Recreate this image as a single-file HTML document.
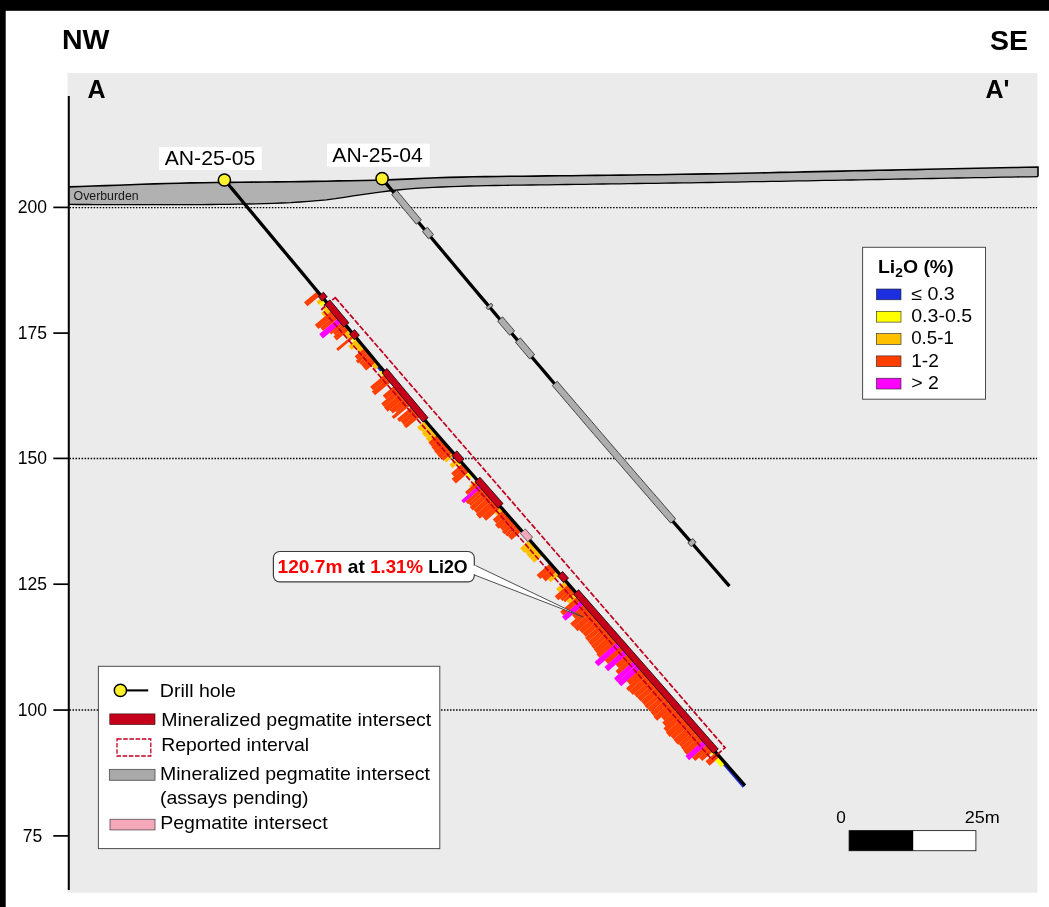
<!DOCTYPE html>
<html><head><meta charset="utf-8">
<style>
html,body{margin:0;padding:0;background:#fff;}
body{width:1049px;height:907px;overflow:hidden;position:relative;font-family:"Liberation Sans",sans-serif;}
svg{position:absolute;left:0;top:0;will-change:transform;}
text{font-family:"Liberation Sans",sans-serif;fill:#000;}
</style></head><body>
<svg width="1049" height="907" viewBox="0 0 1049 907">
<!-- frame -->
<rect x="0" y="0" width="1049" height="10.8" fill="#000"/>
<rect x="0" y="0" width="5.7" height="907" fill="#000"/>
<!-- plot bg -->
<rect x="67.5" y="73" width="969.9" height="819.7" fill="#ebebeb"/>
<!-- headings -->
<text x="62" y="49.4" font-size="28.5" font-weight="bold">NW</text>
<text x="990" y="50.3" font-size="28.5" font-weight="bold">SE</text>
<text x="87.5" y="98.2" font-size="25" font-weight="bold">A</text>
<text x="985.5" y="98.2" font-size="25" font-weight="bold">A'</text>
<!-- gridlines -->
<g stroke="#000" stroke-width="1.45" stroke-dasharray="1.5 1.52">
<line x1="69.5" y1="207.6" x2="1037" y2="207.6"/>
<line x1="69.5" y1="458.4" x2="1037" y2="458.4"/>
<line x1="69.5" y1="710.05" x2="1037" y2="710.05"/>
</g>
<!-- overburden -->
<g id="ovb"><path d="M68.5 186.9 L80.8 186.5 L93.0 186.0 L105.3 185.6 L117.6 185.2 L129.9 184.7 L142.1 184.3 L154.4 183.9 L166.7 183.5 L178.9 183.2 L191.2 182.9 L203.5 182.7 L215.8 182.5 L228.0 182.4 L240.3 182.2 L252.6 182.1 L264.9 182.0 L277.1 181.9 L289.4 181.8 L301.7 181.6 L313.9 181.4 L326.2 181.2 L338.5 180.9 L350.8 180.7 L363.0 180.5 L375.3 180.3 L387.6 179.9 L399.8 179.4 L412.1 178.9 L424.4 178.3 L436.7 177.8 L448.9 177.4 L461.2 177.1 L473.5 176.8 L485.8 176.6 L498.0 176.5 L510.3 176.3 L522.6 176.2 L534.8 176.1 L547.1 175.9 L559.4 175.8 L571.7 175.7 L583.9 175.5 L596.2 175.4 L608.5 175.2 L620.7 175.1 L633.0 175.0 L645.3 174.8 L657.6 174.7 L669.8 174.5 L682.1 174.3 L694.4 174.1 L706.7 173.9 L718.9 173.7 L731.2 173.5 L743.5 173.2 L755.7 173.0 L768.0 172.7 L780.3 172.4 L792.6 172.2 L804.8 171.9 L817.1 171.6 L829.4 171.4 L841.6 171.1 L853.9 170.8 L866.2 170.6 L878.5 170.3 L890.7 170.1 L903.0 169.8 L915.3 169.6 L927.6 169.3 L939.8 169.0 L952.1 168.8 L964.4 168.5 L976.6 168.3 L988.9 168.0 L1001.2 167.8 L1013.5 167.5 L1025.7 167.3 L1038.0 167.0 L1038.0 176.6 L1029.1 176.8 L1020.2 176.9 L1011.3 177.1 L1002.4 177.2 L993.5 177.4 L984.6 177.6 L975.7 177.7 L966.8 177.9 L957.9 178.0 L949.1 178.2 L940.2 178.4 L931.3 178.5 L922.4 178.7 L913.5 178.8 L904.6 179.0 L895.7 179.2 L886.8 179.3 L877.9 179.5 L869.0 179.6 L860.1 179.8 L851.2 180.0 L842.3 180.1 L833.4 180.3 L824.5 180.4 L815.6 180.6 L806.7 180.8 L797.8 180.9 L789.0 181.1 L780.1 181.3 L771.2 181.4 L762.3 181.6 L753.4 181.7 L744.5 181.9 L735.6 182.1 L726.7 182.2 L717.8 182.4 L708.9 182.5 L700.0 182.6 L691.1 182.8 L682.2 182.9 L673.3 183.0 L664.4 183.2 L655.5 183.3 L646.6 183.4 L637.7 183.5 L628.9 183.7 L620.0 183.8 L611.1 183.9 L602.2 184.0 L593.3 184.1 L584.4 184.3 L575.5 184.4 L566.6 184.5 L557.7 184.6 L548.8 184.8 L539.9 184.9 L531.0 185.0 L522.1 185.1 L513.2 185.2 L504.3 185.4 L495.4 185.5 L486.5 185.7 L477.6 185.8 L468.8 186.0 L459.9 186.3 L451.0 186.7 L442.1 187.0 L433.2 187.4 L424.3 187.8 L415.4 188.3 L406.5 189.1 L397.6 190.0 L388.7 191.0 L379.8 192.1 L370.9 193.3 L362.0 194.6 L353.1 195.9 L344.2 197.3 L335.3 198.7 L326.4 199.8 L317.5 200.7 L308.7 201.4 L299.8 202.0 L290.9 202.6 L282.0 203.0 L273.1 203.3 L264.2 203.6 L255.3 203.8 L246.4 204.0 L237.5 204.2 L228.6 204.3 L219.7 204.4 L210.8 204.5 L201.9 204.6 L193.0 204.6 L184.1 204.7 L175.2 204.7 L166.3 204.7 L157.4 204.7 L148.6 204.7 L139.7 204.7 L130.8 204.7 L121.9 204.7 L113.0 204.6 L104.1 204.6 L95.2 204.6 L86.3 204.5 L77.4 204.5 L68.5 204.4 Z" fill="#b1b1b1"/><path d="M68.5 204.4 L77.4 204.5 L86.3 204.5 L95.2 204.6 L104.1 204.6 L113.0 204.6 L121.9 204.7 L130.8 204.7 L139.7 204.7 L148.6 204.7 L157.4 204.7 L166.3 204.7 L175.2 204.7 L184.1 204.7 L193.0 204.6 L201.9 204.6 L210.8 204.5 L219.7 204.4 L228.6 204.3 L237.5 204.2 L246.4 204.0 L255.3 203.8 L264.2 203.6 L273.1 203.3 L282.0 203.0 L290.9 202.6 L299.8 202.0 L308.7 201.4 L317.5 200.7 L326.4 199.8 L335.3 198.7 L344.2 197.3 L353.1 195.9 L362.0 194.6 L370.9 193.3 L379.8 192.1 L388.7 191.0 L397.6 190.0 L406.5 189.1 L415.4 188.3 L424.3 187.8 L433.2 187.4 L442.1 187.0 L451.0 186.7 L459.9 186.3 L468.8 186.0 L477.6 185.8 L486.5 185.7 L495.4 185.5 L504.3 185.4 L513.2 185.2 L522.1 185.1 L531.0 185.0 L539.9 184.9 L548.8 184.8 L557.7 184.6 L566.6 184.5 L575.5 184.4 L584.4 184.3 L593.3 184.1 L602.2 184.0 L611.1 183.9 L620.0 183.8 L628.9 183.7 L637.7 183.5 L646.6 183.4 L655.5 183.3 L664.4 183.2 L673.3 183.0 L682.2 182.9 L691.1 182.8 L700.0 182.6 L708.9 182.5 L717.8 182.4 L726.7 182.2 L735.6 182.1 L744.5 181.9 L753.4 181.7 L762.3 181.6 L771.2 181.4 L780.1 181.3 L789.0 181.1 L797.8 180.9 L806.7 180.8 L815.6 180.6 L824.5 180.4 L833.4 180.3 L842.3 180.1 L851.2 180.0 L860.1 179.8 L869.0 179.6 L877.9 179.5 L886.8 179.3 L895.7 179.2 L904.6 179.0 L913.5 178.8 L922.4 178.7 L931.3 178.5 L940.2 178.4 L949.1 178.2 L957.9 178.0 L966.8 177.9 L975.7 177.7 L984.6 177.6 L993.5 177.4 L1002.4 177.2 L1011.3 177.1 L1020.2 176.9 L1029.1 176.8 L1038.0 176.6" fill="none" stroke="#000" stroke-width="1.3"/><path d="M68.5 186.9 L80.8 186.5 L93.0 186.0 L105.3 185.6 L117.6 185.2 L129.9 184.7 L142.1 184.3 L154.4 183.9 L166.7 183.5 L178.9 183.2 L191.2 182.9 L203.5 182.7 L215.8 182.5 L228.0 182.4 L240.3 182.2 L252.6 182.1 L264.9 182.0 L277.1 181.9 L289.4 181.8 L301.7 181.6 L313.9 181.4 L326.2 181.2 L338.5 180.9 L350.8 180.7 L363.0 180.5 L375.3 180.3 L387.6 179.9 L399.8 179.4 L412.1 178.9 L424.4 178.3 L436.7 177.8 L448.9 177.4 L461.2 177.1 L473.5 176.8 L485.8 176.6 L498.0 176.5 L510.3 176.3 L522.6 176.2 L534.8 176.1 L547.1 175.9 L559.4 175.8 L571.7 175.7 L583.9 175.5 L596.2 175.4 L608.5 175.2 L620.7 175.1 L633.0 175.0 L645.3 174.8 L657.6 174.7 L669.8 174.5 L682.1 174.3 L694.4 174.1 L706.7 173.9 L718.9 173.7 L731.2 173.5 L743.5 173.2 L755.7 173.0 L768.0 172.7 L780.3 172.4 L792.6 172.2 L804.8 171.9 L817.1 171.6 L829.4 171.4 L841.6 171.1 L853.9 170.8 L866.2 170.6 L878.5 170.3 L890.7 170.1 L903.0 169.8 L915.3 169.6 L927.6 169.3 L939.8 169.0 L952.1 168.8 L964.4 168.5 L976.6 168.3 L988.9 168.0 L1001.2 167.8 L1013.5 167.5 L1025.7 167.3 L1038.0 167.0 L1038 176.6" fill="none" stroke="#000" stroke-width="1.6" stroke-linejoin="miter"/></g>
<text x="73.6" y="200" font-size="12.2" style="fill:#161616" textLength="65" lengthAdjust="spacingAndGlyphs">Overburden</text>
<!-- axis -->
<line x1="68.8" y1="96" x2="68.8" y2="890" stroke="#000" stroke-width="2"/>
<g stroke="#000" stroke-width="1.7">
<line x1="53.3" y1="207.4" x2="69" y2="207.4"/>
<line x1="53.3" y1="333.1" x2="69" y2="333.1"/>
<line x1="53.3" y1="458.4" x2="69" y2="458.4"/>
<line x1="53.3" y1="584.2" x2="69" y2="584.2"/>
<line x1="53.3" y1="710.05" x2="69" y2="710.05"/>
<line x1="53.3" y1="835.9" x2="69" y2="835.9"/>
</g>
<g font-size="17.5" text-anchor="middle">
<text x="32.4" y="213.45">200</text>
<text x="32.4" y="339.15">175</text>
<text x="32.4" y="464.45">150</text>
<text x="32.4" y="590.25">125</text>
<text x="32.4" y="716.10">100</text>
<text x="32.4" y="841.95">75</text>
</g>
<!-- HOLES placeholder -->
<g id="hole04">
<path d="M382.1 178.5 L387.2 184.65 L392.3 190.81 L397.41 196.96 L402.51 203.11 L407.62 209.25 L412.73 215.4 L417.85 221.54 L422.97 227.68 L428.09 233.81 L433.21 239.95 L438.33 246.08 L443.46 252.21 L448.59 258.34 L453.72 264.47 L458.86 270.59 L464 276.72 L469.14 282.84 L474.28 288.95 L479.43 295.07 L484.58 301.18 L489.73 307.29 L494.88 313.4 L500.04 319.51 L505.19 325.61 L510.36 331.72 L515.52 337.82 L520.69 343.92 L525.85 350.01 L531.03 356.11 L536.2 362.2 L541.38 368.29 L546.56 374.38 L551.74 380.46 L556.92 386.54 L562.11 392.62 L567.3 398.7 L572.49 404.78 L577.68 410.85 L582.88 416.93 L588.08 423 L593.28 429.06 L598.49 435.13 L603.7 441.19 L608.91 447.25 L614.12 453.31 L619.33 459.37 L624.55 465.42 L629.77 471.48 L634.99 477.53 L640.22 483.57 L645.45 489.62 L650.68 495.66 L655.91 501.71 L661.15 507.74 L666.38 513.78 L671.62 519.82 L676.87 525.85 L682.11 531.88 L687.36 537.91 L692.61 543.93 L697.86 549.96 L703.12 555.98 L708.38 562 L713.64 568.01 L718.9 574.03 L724.17 580.04 L729.44 586.05" fill="none" stroke="#000" stroke-width="3.3"/>
<polygon points="396.75,190.38 400.27,194.61 403.78,198.84 407.29,203.07 410.81,207.3 414.33,211.53 417.85,215.75 421.36,219.98 416.29,224.2 412.77,219.98 409.25,215.75 405.74,211.52 402.22,207.29 398.7,203.06 395.19,198.83 391.68,194.59" fill="#adadad" stroke="#333" stroke-width="0.9"/>
<polygon points="427.45,227.27 430.49,230.92 433.53,234.56 428.47,238.79 425.42,235.15 422.38,231.5" fill="#adadad" stroke="#333" stroke-width="0.9"/>
<polygon points="491.11,303.19 493.04,305.49 488,309.74 486.06,307.45" fill="#adadad" stroke="#333" stroke-width="0.9"/>
<polygon points="502.65,316.87 505.63,320.4 508.62,323.94 511.61,327.47 514.59,331 509.55,335.26 506.57,331.73 503.58,328.2 500.59,324.66 497.61,321.13" fill="#adadad" stroke="#333" stroke-width="0.9"/>
<polygon points="520.41,337.86 523.96,342.06 527.52,346.25 531.07,350.45 534.63,354.64 529.6,358.91 526.04,354.72 522.48,350.52 518.93,346.33 515.37,342.13" fill="#adadad" stroke="#333" stroke-width="0.9"/>
<polygon points="557.31,381.29 561.11,385.75 564.9,390.2 568.7,394.65 572.51,399.1 576.31,403.55 580.11,408 583.92,412.45 587.73,416.9 591.54,421.34 595.35,425.79 599.16,430.23 602.97,434.67 606.78,439.11 610.6,443.55 614.42,447.99 618.24,452.42 622.06,456.86 625.88,461.29 629.7,465.73 633.52,470.16 637.35,474.59 641.17,479.02 645,483.45 648.83,487.88 652.66,492.3 656.49,496.73 660.33,501.15 664.16,505.58 668,510 671.84,514.42 675.67,518.84 670.69,523.17 666.85,518.75 663.01,514.32 659.18,509.9 655.34,505.48 651.51,501.05 647.67,496.62 643.84,492.2 640.01,487.77 636.18,483.34 632.35,478.91 628.53,474.47 624.7,470.04 620.88,465.6 617.05,461.17 613.23,456.73 609.41,452.29 605.6,447.85 601.78,443.41 597.96,438.97 594.15,434.53 590.34,430.08 586.52,425.64 582.71,421.19 578.91,416.74 575.1,412.29 571.29,407.84 567.49,403.39 563.69,398.94 559.88,394.48 556.08,390.03 552.28,385.57" fill="#adadad" stroke="#333" stroke-width="0.9"/>
<polygon points="692.8,538.52 696.09,542.29 691.11,546.63 687.83,542.86" fill="#adadad" stroke="#333" stroke-width="0.9"/>
<circle cx="382.1" cy="178.6" r="6.1" fill="#fff22d" stroke="#000" stroke-width="1.5"/>
</g>
<g id="hole05">
<polygon points="317.31,291.13 320.64,295.13 307.35,306.2 304.02,302.21" fill="#ff3e00"/>
<polygon points="322.24,297.05 324.57,299.85 318.81,304.65 316.48,301.85" fill="#ffc000"/>
<polygon points="324.48,299.73 326.81,302.54 321.74,306.76 319.41,303.96" fill="#ffff00"/>
<polygon points="326.72,302.42 327.78,303.69 324.55,306.38 323.49,305.11" fill="#1c2fe0"/>
<polygon points="327.68,303.58 329.6,305.88 324.22,310.36 322.3,308.06" fill="#ffc000"/>
<polygon points="329.6,305.88 332.9,309.84 324.29,317.01 321,313.05" fill="#ffc000"/>
<polygon points="332.8,309.72 336.42,314.06 318.44,329.04 314.83,324.7" fill="#ff3e00"/>
<polygon points="336.32,313.95 339.2,317.4 323.07,330.85 320.19,327.39" fill="#ff3e00"/>
<polygon points="339.2,317.4 342.82,321.74 322.85,338.39 319.23,334.05" fill="#ff00ff"/>
<polygon points="342.72,321.63 344.33,323.55 331.27,334.43 329.67,332.51" fill="#ff3e00"/>
<polygon points="344.33,323.55 346.25,325.85 335.11,335.14 333.19,332.83" fill="#ff3e00"/>
<polygon points="346.25,325.85 349.45,329.69 336.62,340.39 333.42,336.54" fill="#ff3e00"/>
<polygon points="349.45,329.69 351.48,332.13 353.51,334.57 347.83,339.31 345.8,336.87 343.76,334.43" fill="#ffc000"/>
<polygon points="353.42,334.46 355.21,336.61 338,350.95 336.21,348.8" fill="#ff3e00"/>
<polygon points="355.21,336.61 357.1,338.87 353.49,341.88 351.6,339.62" fill="#ffff00"/>
<polygon points="357,338.76 360.3,342.71 351.62,349.95 348.32,345.99" fill="#ffc000"/>
<polygon points="360.2,342.6 362.49,345.34 364.78,348.09 359.25,352.7 356.96,349.95 354.67,347.21" fill="#ffc000"/>
<polygon points="364.69,347.98 367.47,351.32 357.48,359.64 354.7,356.3" fill="#ff3e00"/>
<polygon points="367.37,351.2 369.62,353.89 358.09,363.49 355.85,360.81" fill="#ff3e00"/>
<polygon points="369.62,353.89 371.22,355.81 360.77,364.52 359.17,362.6" fill="#ff3e00"/>
<polygon points="371.22,355.81 373.78,358.88 376.34,361.96 366.12,370.47 363.56,367.4 361,364.33" fill="#ff3e00"/>
<polygon points="376.34,361.96 379.76,366.07 375.31,369.78 371.88,365.67" fill="#ffc000"/>
<polygon points="379.67,365.95 382.84,369.75 380.3,371.87 377.13,368.06" fill="#1c2fe0"/>
<polygon points="382.74,369.64 386.04,373.59 382.58,376.48 379.28,372.52" fill="#ffff00"/>
<polygon points="385.94,373.48 389.11,377.28 373.29,390.47 370.12,386.67" fill="#ff3e00"/>
<polygon points="389.01,377.17 392.22,381.01 375.01,395.35 371.81,391.51" fill="#ff3e00"/>
<polygon points="395.42,384.85 398.84,388.96 386.17,399.52 382.74,395.41" fill="#ff3e00"/>
<polygon points="398.75,388.84 401.79,392.49 384.27,407.09 381.23,403.44" fill="#ff3e00"/>
<polygon points="401.69,392.38 405.44,396.87 387.62,411.72 383.87,407.23" fill="#ff3e00"/>
<polygon points="405.34,396.75 408.45,400.48 392.78,413.54 389.67,409.82" fill="#ff3e00"/>
<polygon points="408.35,400.37 409.6,401.86 396.54,412.75 395.29,411.25" fill="#ff3e00"/>
<polygon points="409.5,401.75 411.55,404.21 393.73,419.06 391.68,416.6" fill="#ff3e00"/>
<polygon points="412.83,405.74 415.49,408.93 399.66,422.12 397.01,418.93" fill="#ff3e00"/>
<polygon points="415.39,408.82 418.43,412.46 403.69,424.76 400.64,421.11" fill="#ff3e00"/>
<polygon points="418.34,412.35 421.16,415.72 406.15,428.33 403.29,424.9" fill="#ff3e00"/>
<polygon points="425.16,420.46 428.27,424.12 420.21,431 417.07,427.32" fill="#ffc000"/>
<polygon points="428.27,424.12 429.89,426.02 422.6,432.26 420.97,430.35" fill="#ffc000"/>
<polygon points="429.89,426.02 433.48,430.19 425.38,437.18 421.77,432.98" fill="#ffc000"/>
<polygon points="433.48,430.19 434.27,431.1 426.86,437.51 426.06,436.59" fill="#ffc000"/>
<polygon points="434.27,431.1 437.51,434.83 429.07,442.19 425.8,438.42" fill="#ffc000"/>
<polygon points="437.41,434.72 441,438.82 432.05,446.67 428.44,442.54" fill="#ff3e00"/>
<polygon points="440.9,438.71 444.1,442.36 434.63,450.66 431.43,447.02" fill="#ff3e00"/>
<polygon points="444,442.24 447.79,446.57 437.94,455.2 434.15,450.88" fill="#ff3e00"/>
<polygon points="447.69,446.45 450.59,449.76 440.52,458.6 437.62,455.29" fill="#ff3e00"/>
<polygon points="450.59,449.76 453,452.51 443.52,460.81 441.12,458.07" fill="#ff3e00"/>
<polygon points="452.9,452.39 455.04,454.84 446.24,462.55 444.1,460.11" fill="#ffc000"/>
<polygon points="454.94,454.73 455.87,455.78 453.01,458.28 452.09,457.23" fill="#1c2fe0"/>
<polygon points="457.51,457.66 460.58,461.15 452.53,468.21 449.47,464.71" fill="#ffc000"/>
<polygon points="460.48,461.04 462.56,463.41 459.25,466.31 457.17,463.94" fill="#ffff00"/>
<polygon points="462.46,463.3 465.52,466.79 454.24,476.68 451.18,473.19" fill="#ff3e00"/>
<polygon points="465.43,466.68 467.55,469.11 469.68,471.53 455.92,483.6 453.79,481.17 451.66,478.75" fill="#ff3e00"/>
<polygon points="469.58,471.42 473.27,475.63 469.36,479.06 465.67,474.85" fill="#ffff00"/>
<polygon points="476.63,479.46 477.95,480.97 470.36,487.63 469.04,486.12" fill="#ffc000"/>
<polygon points="477.75,480.74 480.49,483.86 467.78,495 465.04,491.88" fill="#ff3e00"/>
<polygon points="480.39,483.75 482.86,486.57 463.76,503.31 461.29,500.5" fill="#ff00ff"/>
<polygon points="482.76,486.46 485.14,489.17 467.99,504.2 465.62,501.49" fill="#ff3e00"/>
<polygon points="485.14,489.17 487.25,491.57 470.85,505.94 468.74,503.54" fill="#ff3e00"/>
<polygon points="487.25,491.57 490.28,495.03 472.76,510.39 469.72,506.93" fill="#ff3e00"/>
<polygon points="490.28,495.03 493.64,498.87 476.95,513.5 473.58,509.66" fill="#ff3e00"/>
<polygon points="493.64,498.87 497.5,503.26 479.83,518.76 475.97,514.36" fill="#ff3e00"/>
<polygon points="497.4,503.15 501.19,507.48 486.07,520.73 482.28,516.4" fill="#ff3e00"/>
<polygon points="501.09,507.36 503.56,510.18 497.17,515.79 494.7,512.97" fill="#ffc000"/>
<polygon points="503.46,510.07 507.12,514.24 496.44,523.6 492.78,519.43" fill="#ff3e00"/>
<polygon points="507.02,514.13 510.68,518.3 498.65,528.85 494.99,524.68" fill="#ff3e00"/>
<polygon points="510.58,518.19 513.58,521.61 502.9,530.97 499.9,527.55" fill="#ff3e00"/>
<polygon points="513.48,521.5 515.86,524.21 504.35,534.29 501.98,531.59" fill="#ff3e00"/>
<polygon points="515.86,524.21 518.16,526.84 507.18,536.46 504.88,533.83" fill="#ff3e00"/>
<polygon points="518.16,526.84 521.79,530.97 511.49,540.01 507.86,535.87" fill="#ff3e00"/>
<polygon points="529.57,539.85 531.59,542.16 533.62,544.47 524.15,552.78 522.12,550.47 520.09,548.15" fill="#ffc000"/>
<polygon points="533.52,544.36 535.63,546.76 527.06,554.28 524.95,551.87" fill="#ffc000"/>
<polygon points="535.63,546.76 538.6,550.15 529.65,557.99 526.68,554.61" fill="#ffc000"/>
<polygon points="538.6,550.15 540.77,552.63 542.95,555.11 534.15,562.82 531.98,560.34 529.8,557.86" fill="#ffc000"/>
<polygon points="550,563.16 553.66,567.33 540.28,579.06 536.62,574.89" fill="#ff3e00"/>
<polygon points="553.56,567.22 557.16,571.32 545.57,581.47 541.98,577.37" fill="#ff3e00"/>
<polygon points="557.06,571.2 559.79,574.32 550.62,582.37 547.88,579.25" fill="#ffc000"/>
<polygon points="559.69,574.21 561.34,576.09 558.11,578.93 556.46,577.05" fill="#ffff00"/>
<polygon points="565.43,580.75 568.56,584.32 559.31,592.43 556.18,588.86" fill="#ffc000"/>
<polygon points="568.46,584.21 571.99,588.24 558.23,600.3 554.7,596.28" fill="#ff3e00"/>
<polygon points="571.89,588.12 574.13,590.68 562.32,601.03 560.08,598.47" fill="#ff3e00"/>
<polygon points="574.13,590.68 575.94,592.75 565.04,602.31 563.23,600.24" fill="#ff3e00"/>
<polygon points="575.84,592.63 578.71,595.91 569.39,604.08 566.52,600.81" fill="#ffc000"/>
<polygon points="578.61,595.79 579.8,597.15 576.49,600.05 575.3,598.69" fill="#ffff00"/>
<polygon points="578.48,595.64 581.88,599.51 563.53,615.6 560.13,611.73" fill="#ff3e00"/>
<polygon points="581.78,599.4 585.3,603.42 565.53,620.76 562,616.74" fill="#ff00ff"/>
<polygon points="585.2,603.31 588.8,607.41 575.56,619.01 571.97,614.91" fill="#ff3e00"/>
<polygon points="588.7,607.3 591.8,610.83 573.3,627.05 570.2,623.51" fill="#ff3e00"/>
<polygon points="591.8,610.83 595.72,615.31 577.52,631.26 573.6,626.78" fill="#ff3e00"/>
<polygon points="595.62,615.19 598.92,618.95 582.37,633.46 579.08,629.7" fill="#ff3e00"/>
<polygon points="598.92,618.95 602.21,622.71 585.82,637.08 582.52,633.32" fill="#ff3e00"/>
<polygon points="602.21,622.71 605.51,626.47 588.36,641.5 585.07,637.74" fill="#ff3e00"/>
<polygon points="605.51,626.47 608.8,630.23 591.51,645.39 588.21,641.63" fill="#ff3e00"/>
<polygon points="608.8,630.23 611.71,633.54 594.03,649.03 591.13,645.72" fill="#ff3e00"/>
<polygon points="611.71,633.54 615.5,637.86 597.45,653.69 593.66,649.36" fill="#ff3e00"/>
<polygon points="615.4,637.75 618.4,641.17 599.45,657.78 596.45,654.36" fill="#ff3e00"/>
<polygon points="618.3,641.06 622.09,645.38 598.33,666.21 594.54,661.89" fill="#ff00ff"/>
<polygon points="621.99,645.27 625.25,648.99 608.03,664.09 604.77,660.37" fill="#ff3e00"/>
<polygon points="625.15,648.88 628.81,653.05 608.13,671.18 604.47,667.01" fill="#ff00ff"/>
<polygon points="628.71,652.94 631.98,656.66 618.82,668.2 615.55,664.48" fill="#ff3e00"/>
<polygon points="631.88,656.55 634.94,660.05 618.55,674.42 615.48,670.92" fill="#ff3e00"/>
<polygon points="634.84,659.93 638.07,663.62 617.24,681.88 614.01,678.19" fill="#ff00ff"/>
<polygon points="638.07,663.62 641.86,667.94 621.11,686.14 617.32,681.81" fill="#ff00ff"/>
<polygon points="641.77,667.83 645.16,671.7 630.05,684.95 626.65,681.08" fill="#ff3e00"/>
<polygon points="645.06,671.59 647.83,674.75 628.81,691.43 626.04,688.27" fill="#ff3e00"/>
<polygon points="647.83,674.75 651.32,678.73 632.83,694.95 629.33,690.96" fill="#ff3e00"/>
<polygon points="651.32,678.73 654.55,682.42 637.11,697.71 633.88,694.03" fill="#ff3e00"/>
<polygon points="654.55,682.42 657.78,686.1 640.56,701.2 637.33,697.51" fill="#ff3e00"/>
<polygon points="657.78,686.1 661.64,690.5 644.72,705.33 640.87,700.93" fill="#ff3e00"/>
<polygon points="661.54,690.39 664.38,693.62 647.16,708.72 644.32,705.48" fill="#ff3e00"/>
<polygon points="664.38,693.62 667.8,697.53 650.96,712.3 647.53,708.39" fill="#ff3e00"/>
<polygon points="667.8,697.53 671.1,701.29 654.03,716.26 650.73,712.5" fill="#ff3e00"/>
<polygon points="671.1,701.29 674.69,705.39 657.1,720.82 653.5,716.72" fill="#ff3e00"/>
<polygon points="674.59,705.28 677.86,709 664.47,720.73 661.21,717.01" fill="#ff3e00"/>
<polygon points="677.76,708.89 681.29,712.91 665.72,726.56 662.19,722.53" fill="#ff3e00"/>
<polygon points="681.19,712.8 684.35,716.41 666.6,731.96 663.44,728.35" fill="#ff3e00"/>
<polygon points="684.35,716.41 688.14,720.73 669.72,736.88 665.93,732.56" fill="#ff3e00"/>
<polygon points="688.04,720.62 691.01,724 673.49,739.36 670.52,735.98" fill="#ff3e00"/>
<polygon points="691.01,724 693.33,726.65 695.66,729.3 677.99,744.79 675.66,742.14 673.34,739.49" fill="#ff3e00"/>
<polygon points="695.56,729.19 698.26,732.27 681.42,747.04 678.71,743.96" fill="#ff3e00"/>
<polygon points="698.26,732.27 700.96,735.36 683.74,750.45 681.04,747.37" fill="#ff3e00"/>
<polygon points="700.96,735.36 704.62,739.53 686.95,755.02 683.29,750.85" fill="#ff3e00"/>
<polygon points="704.52,739.42 708.12,743.51 689.09,760.19 685.5,756.09" fill="#ff00ff"/>
<polygon points="708.02,743.4 711.21,747.05 695.27,761.02 692.07,757.38" fill="#ff3e00"/>
<polygon points="711.11,746.94 714.25,750.51 702.21,761.05 699.08,757.48" fill="#ff3e00"/>
<polygon points="714.15,750.39 715.83,752.31 712.07,755.61 710.39,753.69" fill="#ffff00"/>
<polygon points="715.73,752.2 717.76,754.51 719.78,756.82 709.56,765.79 707.53,763.48 705.5,761.16" fill="#ff3e00"/>
<polygon points="719.68,756.71 722.65,760.09 725.62,763.48 721.11,767.43 718.14,764.05 715.17,760.67" fill="#ffff00"/>
<polygon points="725.49,763.33 729.39,767.78 733.29,772.23 737.19,776.68 741.1,781.13 745,785.59 742.67,787.63 738.76,783.18 734.86,778.73 730.96,774.27 727.06,769.82 723.15,765.37" fill="#1c2fe0"/>
<path d="M317.44 294.41L306.14 303.82M333.07 313.17L317.1 326.49M336.23 316.95L322.09 328.74M346.31 329.05L335.48 338.08M364.54 350.93L356.55 357.59M371.39 359.14L363.17 365.99M373.09 361.19L364.87 368.04M385.99 376.66L372.16 388.19M389.08 380.37L373.87 393.04M395.59 388.18L384.92 397.08M398.73 391.95L383.21 404.88M402.03 395.9L386.2 409.09M405.36 399.9L391.68 411.29M412.62 408.62L398.8 420.14M415.38 411.92L402.63 422.55M418.21 415.32L405.18 426.23M437.7 438.09L430.7 444.21M441 441.85L433.48 448.44M444.39 445.72L436.5 452.65M447.64 449.43L439.52 456.55M462.49 466.36L453.16 474.54M465.34 469.62L453.53 479.97M466.76 471.23L454.95 481.58M477.62 483.62L466.86 493.05M487.26 494.62L471.69 508.27M490.45 498.27L475.72 511.19M494.06 502.38L478.35 516.16M497.79 506.63L484.63 518.17M503.79 513.47L495.06 521.12M507.35 517.54L497.27 526.37M510.58 521.22L501.85 528.87M518.47 530.22L510.12 537.54M550.33 566.56L538.9 576.58M553.85 570.59L544.23 579.02M568.72 587.54L556.91 597.89M578.67 598.9L562.28 613.27M585.5 606.68L574.22 616.57M588.74 610.38L572.2 624.89M592.25 614.39L576.01 628.63M595.76 618.39L581.18 631.18M599.06 622.15L584.62 634.81M602.36 625.91L587.17 639.23M605.65 629.67L590.31 643.12M608.75 633.2L593.03 646.98M612.1 637.02L596 651.13M615.39 640.78L598.4 655.68M622.12 648.45L606.85 661.83M628.84 656.12L617.64 665.94M631.91 659.62L617.47 672.27M641.96 671.08L628.8 682.62M644.94 674.49L627.87 689.45M648.07 678.06L631.53 692.56M651.44 681.89L635.94 695.47M654.67 685.58L639.4 698.96M658.21 689.62L643.24 702.74M661.46 693.32L646.19 706.71M664.59 696.9L649.7 709.95M667.95 700.73L652.83 713.98M671.39 704.66L655.75 718.37M674.72 708.46L663.29 718.48M678.02 712.22L664.41 724.15M681.26 715.92L665.47 729.76M684.74 719.89L668.27 734.32M688.02 723.63L672.46 737.27M691.05 727.09L675.34 740.86M692.6 728.85L676.89 742.63M695.4 732.05L680.52 745.1M698.11 735.13L682.84 748.51M701.29 738.76L685.57 752.54M708.11 746.54L694.12 758.8M711.18 750.04L701.1 758.87M715.58 755.06L707.31 762.31M716.93 756.6L708.66 763.85" stroke="#ff6a35" stroke-width="0.4" fill="none" opacity="0.42"/>
<path d="M224.6 179.9 L229.71 186.03 L234.83 192.17 L239.94 198.3 L245.05 204.44 L250.16 210.57 L255.28 216.71 L260.39 222.84 L265.5 228.98 L270.62 235.11 L275.73 241.25 L280.84 247.38 L285.96 253.52 L291.07 259.65 L296.18 265.78 L301.29 271.92 L306.41 278.05 L311.52 284.19 L316.63 290.32 L321.75 296.46 L326.86 302.59 L331.97 308.73 L337.09 314.86 L342.2 321 L347.31 327.13 L352.42 333.27 L357.54 339.4 L362.65 345.53 L367.76 351.67 L372.88 357.8 L377.99 363.94 L383.1 370.07 L388.22 376.21 L393.33 382.34 L398.44 388.48 L403.55 394.61 L408.67 400.75 L413.78 406.88 L418.89 413.02 L424.03 419.13 L429.2 425.21 L434.41 431.27 L439.66 437.29 L444.92 443.29 L450.19 449.3 L455.45 455.3 L460.72 461.31 L465.98 467.31 L471.24 473.32 L476.51 479.33 L481.77 485.33 L487.04 491.34 L492.3 497.34 L497.57 503.35 L502.83 509.35 L508.1 515.36 L513.36 521.36 L518.63 527.37 L523.89 533.37 L529.15 539.38 L534.42 545.38 L539.68 551.39 L544.95 557.39 L550.21 563.4 L555.48 569.4 L560.74 575.41 L566.01 581.41 L571.27 587.42 L576.53 593.42 L581.8 599.43 L587.06 605.43 L592.33 611.44 L597.59 617.44 L602.86 623.45 L608.12 629.45 L613.39 635.46 L618.65 641.46 L623.92 647.47 L629.18 653.47 L634.44 659.48 L639.71 665.48 L644.97 671.49 L650.24 677.49 L655.5 683.5 L660.77 689.5 L666.03 695.51 L671.3 701.51 L676.56 707.52 L681.82 713.52 L687.09 719.53 L692.35 725.53 L697.62 731.54 L702.88 737.54 L708.15 743.55 L713.41 749.56 L718.68 755.56 L723.94 761.57 L729.2 767.57 L734.47 773.58 L739.73 779.58 L745 785.59" fill="none" stroke="#000" stroke-width="3.3"/>
<polygon points="323.45,292.26 327.23,296.79 322.08,301.08 318.31,296.55" fill="#c4001a" stroke="#000" stroke-width="0.8"/>
<polygon points="329.86,299.94 333.67,304.52 337.49,309.1 341.3,313.67 345.12,318.25 348.93,322.83 343.79,327.12 339.97,322.54 336.16,317.96 332.34,313.39 328.52,308.81 324.71,304.23" fill="#c4001a" stroke="#000" stroke-width="0.8"/>
<polygon points="354.63,329.67 357,332.51 359.37,335.35 354.22,339.64 351.86,336.8 349.49,333.96" fill="#c4001a" stroke="#000" stroke-width="0.8"/>
<polygon points="387.03,368.54 390.76,373.01 394.49,377.49 398.22,381.97 401.95,386.44 405.68,390.92 409.41,395.4 413.15,399.87 416.88,404.35 420.61,408.82 424.34,413.28 428.08,417.72 422.97,422.05 419.21,417.59 415.46,413.11 411.73,408.64 408,404.16 404.27,399.68 400.54,395.21 396.81,390.73 393.08,386.26 389.34,381.78 385.61,377.3 381.88,372.83" fill="#c4001a" stroke="#000" stroke-width="0.8"/>
<polygon points="456.9,450.89 460.49,454.98 464.08,459.08 459.04,463.5 455.45,459.4 451.86,455.3" fill="#c4001a" stroke="#000" stroke-width="0.8"/>
<polygon points="480.04,477.28 483.87,481.65 487.7,486.03 491.54,490.4 495.37,494.77 499.21,499.15 503.04,503.52 498,507.94 494.17,503.57 490.33,499.19 486.5,494.82 482.67,490.44 478.83,486.07 475,481.7" fill="#c4001a" stroke="#000" stroke-width="0.8"/>
<polygon points="525.32,528.94 528.98,533.11 532.64,537.29 527.6,541.7 523.94,537.53 520.29,533.36" fill="#f3a8bb" stroke="#444" stroke-width="0.8"/>
<polygon points="562.63,571.5 565.57,574.85 568.5,578.19 563.46,582.61 560.53,579.26 557.6,575.92" fill="#c4001a" stroke="#000" stroke-width="0.8"/>
<polygon points="578.65,589.77 582.53,594.2 586.41,598.62 590.29,603.04 594.17,607.47 598.05,611.89 601.92,616.32 605.8,620.74 609.68,625.16 613.56,629.59 617.44,634.01 621.32,638.44 625.19,642.86 629.07,647.28 632.95,651.71 636.83,656.13 640.71,660.56 644.59,664.98 648.46,669.4 652.34,673.83 656.22,678.25 660.1,682.68 663.98,687.1 667.86,691.52 671.73,695.95 675.61,700.37 679.49,704.8 683.37,709.22 687.25,713.64 691.13,718.07 695.01,722.49 698.88,726.92 702.76,731.34 706.64,735.76 710.52,740.19 714.4,744.61 718.28,749.04 713.24,753.45 709.36,749.03 705.48,744.6 701.6,740.18 697.72,735.76 693.85,731.33 689.97,726.91 686.09,722.48 682.21,718.06 678.33,713.64 674.45,709.21 670.58,704.79 666.7,700.36 662.82,695.94 658.94,691.52 655.06,687.09 651.18,682.67 647.3,678.24 643.43,673.82 639.55,669.4 635.67,664.97 631.79,660.55 627.91,656.12 624.03,651.7 620.16,647.28 616.28,642.85 612.4,638.43 608.52,634 604.64,629.58 600.76,625.16 596.89,620.73 593.01,616.31 589.13,611.88 585.25,607.46 581.37,603.04 577.49,598.61 573.62,594.19" fill="#c4001a" stroke="#000" stroke-width="0.8"/>
<rect x="0" y="0" width="595.5" height="17.7" transform="translate(335.2 297.6) rotate(49.1)" fill="none" stroke="#c00020" stroke-width="1.7" stroke-dasharray="5.7 1.8"/>
<circle cx="224.4" cy="180" r="6.1" fill="#fff22d" stroke="#000" stroke-width="1.5"/>
</g>
<!-- hole labels -->
<rect x="159.1" y="147" width="102.7" height="23" fill="#fff"/>
<text x="164.7" y="165" font-size="21" textLength="90.6" lengthAdjust="spacingAndGlyphs">AN-25-05</text>
<rect x="327" y="143.7" width="102.8" height="23" fill="#fff"/>
<text x="332.3" y="162.3" font-size="21" textLength="90.4" lengthAdjust="spacingAndGlyphs">AN-25-04</text>
<!-- callout -->
<g id="callout">
<path d="M474 564.8 L583.3 617.1 L474 574.8 Z" fill="#fff" stroke="#3c3c3c" stroke-width="0.9" stroke-linejoin="miter"/>
<rect x="273.4" y="551.5" width="200.9" height="30.4" rx="6.3" ry="6.3" fill="#fff" stroke="#3c3c3c" stroke-width="1.2"/>
<rect x="472" y="565.6" width="4" height="8.6" fill="#fff"/>
<g font-size="17.8" font-weight="bold">
<text x="277.6" y="572.9" fill="#ff0000" style="fill:#ff0000" textLength="64.8" lengthAdjust="spacingAndGlyphs">120.7m</text>
<text x="347.8" y="572.9" textLength="17" lengthAdjust="spacingAndGlyphs">at</text>
<text x="370.2" y="572.9" style="fill:#ff0000" textLength="52.8" lengthAdjust="spacingAndGlyphs">1.31%</text>
<text x="428.2" y="572.9" textLength="39.4" lengthAdjust="spacingAndGlyphs">Li2O</text>
</g>
</g>
<!-- Li2O legend -->
<g id="leg1">
<rect x="862.6" y="247.3" width="122.9" height="151.9" fill="#fff" stroke="#4a4a4a" stroke-width="1"/>
<text x="878" y="273.4" font-size="18.4" font-weight="bold" textLength="75.6" lengthAdjust="spacingAndGlyphs">Li<tspan font-size="13" dy="3.6">2</tspan><tspan dy="-3.6">O (%)</tspan></text>
<g stroke="#222" stroke-width="0.6">
<rect x="876.4" y="289" width="24.6" height="10.8" fill="#1c2fe0"/>
<rect x="876.4" y="311.3" width="24.6" height="10.8" fill="#ffff00"/>
<rect x="876.4" y="333.6" width="24.6" height="10.8" fill="#ffc000"/>
<rect x="876.4" y="355.9" width="24.6" height="10.8" fill="#ff3e00"/>
<rect x="876.4" y="378.2" width="24.6" height="10.8" fill="#ff00ff"/>
</g>
<g font-size="17.6">
<text x="911.2" y="299.5" textLength="43.6" lengthAdjust="spacingAndGlyphs">≤ 0.3</text>
<text x="911.2" y="321.85" textLength="61" lengthAdjust="spacingAndGlyphs">0.3-0.5</text>
<text x="911.2" y="344.2" textLength="42.6" lengthAdjust="spacingAndGlyphs">0.5-1</text>
<text x="911.2" y="366.55" textLength="27.6" lengthAdjust="spacingAndGlyphs">1-2</text>
<text x="911.2" y="388.9" textLength="27.6" lengthAdjust="spacingAndGlyphs">&gt; 2</text>
</g>
</g>
<!-- main legend -->
<g id="leg2">
<rect x="98.4" y="666.3" width="341.4" height="182.3" fill="#fff" stroke="#4c4c4c" stroke-width="1"/>
<line x1="120.4" y1="690.4" x2="148.2" y2="690.4" stroke="#000" stroke-width="2.1"/>
<circle cx="120.4" cy="690.4" r="6.1" fill="#fff22d" stroke="#000" stroke-width="1.5"/>
<rect x="109.8" y="713.9" width="45.2" height="10.6" fill="#c4001a" stroke="#300" stroke-width="0.6"/>
<rect x="117" y="739" width="33.8" height="17" fill="none" stroke="#c00020" stroke-width="1.3" stroke-dasharray="4.6 1.6"/>
<rect x="109.4" y="769.4" width="45.6" height="10.9" fill="#a9a9a9" stroke="#5a5a5a" stroke-width="0.9"/>
<rect x="110" y="819.3" width="45" height="10.6" fill="#f4a8ba" stroke="#6a5a5a" stroke-width="0.9"/>
<g font-size="17.9">
<text x="159.8" y="696.9" textLength="76.2" lengthAdjust="spacingAndGlyphs">Drill hole</text>
<text x="161.2" y="726.1" textLength="270" lengthAdjust="spacingAndGlyphs">Mineralized pegmatite intersect</text>
<text x="161.2" y="750.9" textLength="148" lengthAdjust="spacingAndGlyphs">Reported interval</text>
<text x="160" y="779.7" textLength="270" lengthAdjust="spacingAndGlyphs">Mineralized pegmatite intersect</text>
<text x="160" y="804" textLength="148.6" lengthAdjust="spacingAndGlyphs">(assays pending)</text>
<text x="160.2" y="829.4" textLength="167.4" lengthAdjust="spacingAndGlyphs">Pegmatite intersect</text>
</g>
</g>
<!-- scale bar -->
<g id="scale">
<rect x="849.1" y="830.6" width="126.8" height="20.1" fill="#fff" stroke="#222" stroke-width="0.9"/>
<rect x="849.1" y="830.6" width="64.1" height="20.1" fill="#000"/>
<text x="836.3" y="822.7" font-size="17.2">0</text>
<text x="964.8" y="822.7" font-size="17.2" textLength="35" lengthAdjust="spacingAndGlyphs">25m</text>
</g>
</svg>
</body></html>
